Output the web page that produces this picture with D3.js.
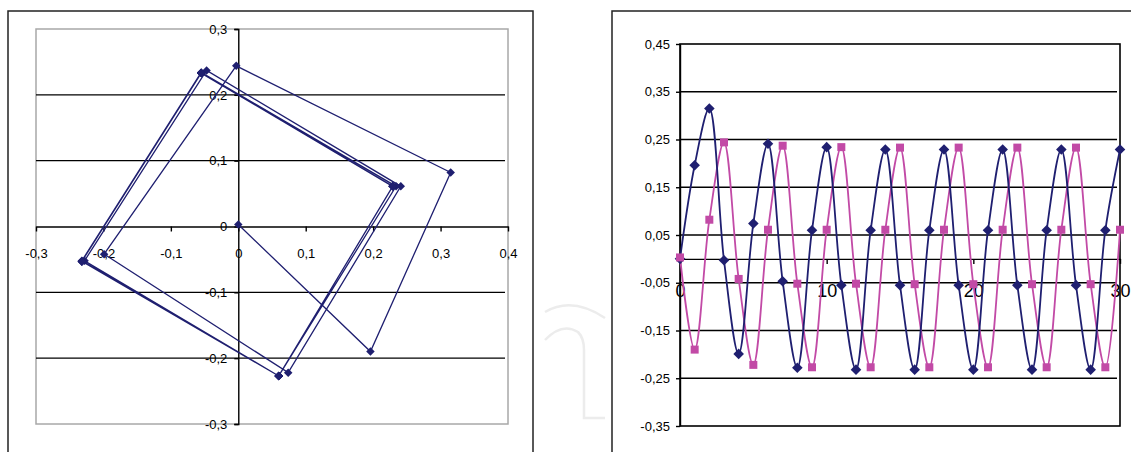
<!DOCTYPE html>
<head>
  <meta charset="utf-8">
  <script src="https://d3js.org/d3.v7.min.js"></script>
  <style>
    body { margin:0; background:#fff; }
    svg { display:block; }
    text { font-family: "Liberation Sans", Arial, sans-serif; fill:#000; }
    .grid { stroke:#000; stroke-width:1.4; }
    .axis path, .axis line { stroke:#000; stroke-width:1.4; }
  </style>
</head>

<body>
  <script>
    // time steps 0..30 and the two series (blue = x, magenta = y)
    var steps = d3.range(0, 31);
    var blueSeries = [0, 0.196, 0.315, -0.003, -0.199, 0.074, 0.241, -0.047, -0.228, 0.06,
      0.234, -0.055, -0.232, 0.06, 0.229, -0.055, -0.232, 0.06, 0.229, -0.055,
      -0.232, 0.06, 0.229, -0.055, -0.232, 0.06, 0.229, -0.055, -0.232, 0.06, 0.229];
    var magentaSeries = [0.003, -0.19, 0.082, 0.244, -0.042, -0.222, 0.061, 0.237, -0.052, -0.227,
      0.061, 0.234, -0.052, -0.227, 0.061, 0.233, -0.053, -0.227, 0.061, 0.233,
      -0.053, -0.227, 0.061, 0.233, -0.053, -0.227, 0.061, 0.233, -0.053, -0.227, 0.061];

    var leftXTicks = [-0.3, -0.2, -0.1, 0, 0.1, 0.2, 0.3, 0.4];
    var leftYTicks = [-0.3, -0.2, -0.1, 0, 0.1, 0.2, 0.3];
    var rightXTicks = [0, 10, 20, 30];
    var rightYTicks = [-0.35, -0.25, -0.15, -0.05, 0.05, 0.15, 0.25, 0.35, 0.45];

    var navy = "#1f1f70", magenta = "#c24aa6";
    var fmt = function (d) { return String(+d.toFixed(2)).replace(".", ","); };

    var svg = d3.select("body").append("svg")
        .attr("width", 1131).attr("height", 452);

    // faint watermark between the charts
    svg.append("path")
        .attr("d", "M545,312 Q572,296 605,318")
        .attr("fill", "none").attr("stroke", "#ececec").attr("stroke-width", 2.5);
    svg.append("path")
        .attr("d", "M545,340 Q562,322 578,332 Q584,338 584,350 L584,418 L605,418")
        .attr("fill", "none").attr("stroke", "#ececec").attr("stroke-width", 2.5);

    // ---------- left chart: blue vs magenta ----------
    svg.append("rect").attr("x", 8).attr("y", 11).attr("width", 525).attr("height", 460)
        .attr("fill", "none").attr("stroke", "#222").attr("stroke-width", 1.5);

    var lx = d3.scaleLinear().domain([-0.3, 0.4]).range([36, 508]);
    var ly = d3.scaleLinear().domain([-0.3, 0.3]).range([424, 29]);
    var left = svg.append("g");

    left.append("rect")
        .attr("x", lx(-0.3)).attr("y", ly(0.3))
        .attr("width", lx(0.4) - lx(-0.3)).attr("height", ly(-0.3) - ly(0.3))
        .attr("fill", "none").attr("stroke", "#a8a8a8").attr("stroke-width", 1.5);

    left.append("g").attr("class", "axis")
        .attr("transform", "translate(" + lx(0) + ",0)")
        .call(d3.axisLeft(ly).tickValues(leftYTicks).tickFormat(fmt).tickSize(4).tickPadding(7))
        .call(function (g) { g.selectAll("text").style("font-size", "13px"); });

    left.append("g").attr("class", "axis")
        .attr("transform", "translate(0," + ly(0) + ")")
        .call(d3.axisBottom(lx).tickValues(leftXTicks).tickFormat(fmt).tickSize(5).tickPadding(17).tickSizeOuter(0))
        .call(function (g) { g.selectAll("text").style("font-size", "13px"); });

    left.selectAll("line.grid")
        .data(leftYTicks.filter(function (d) { return d !== 0 && Math.abs(d) < 0.3; }))
        .enter().append("line").attr("class", "grid")
        .attr("x1", lx(-0.3)).attr("x2", lx(0.4) - 3)
        .attr("y1", function (d) { return ly(d); }).attr("y2", function (d) { return ly(d); });

    var pairs = steps.map(function (t) { return [blueSeries[t], magentaSeries[t]]; });
    left.append("path").datum(pairs)
        .attr("fill", "none").attr("stroke", navy).attr("stroke-width", 1.3)
        .attr("d", d3.line().x(function (d) { return lx(d[0]); }).y(function (d) { return ly(d[1]); }));
    left.selectAll("path.mk").data(pairs).enter().append("path").attr("class", "mk")
        .attr("d", d3.symbol(d3.symbolSquare, 36))
        .attr("fill", navy)
        .attr("transform", function (d) { return "translate(" + lx(d[0]) + "," + ly(d[1]) + ") rotate(45)"; });

    // ---------- right chart: both series over time ----------
    svg.append("rect").attr("x", 612).attr("y", 11).attr("width", 560).attr("height", 460)
        .attr("fill", "none").attr("stroke", "#222").attr("stroke-width", 1.5);

    var rx = d3.scaleLinear().domain([0, 30]).range([680, 1120]);
    var ry = d3.scaleLinear().domain([-0.35, 0.45]).range([426, 44]);
    var right = svg.append("g");

    right.selectAll("line.grid")
        .data(rightYTicks.filter(function (d) { return d > -0.35 && d < 0.45; }))
        .enter().append("line").attr("class", "grid")
        .attr("x1", rx(0)).attr("x2", rx(30) - 3)
        .attr("y1", function (d) { return ry(d); }).attr("y2", function (d) { return ry(d); });

    right.append("rect")
        .attr("x", rx(0)).attr("y", ry(0.45))
        .attr("width", rx(30) - rx(0)).attr("height", ry(-0.35) - ry(0.45))
        .attr("fill", "none").attr("stroke", "#000").attr("stroke-width", 1.6);

    right.append("g").attr("class", "axis")
        .attr("transform", "translate(" + rx(0) + ",0)")
        .call(d3.axisLeft(ry).tickValues(rightYTicks).tickFormat(fmt).tickSize(4).tickPadding(6).tickSizeOuter(0))
        .call(function (g) { g.selectAll("text").style("font-size", "13px"); });

    right.append("g").attr("class", "axis")
        .attr("transform", "translate(0," + ry(0) + ")")
        .call(d3.axisBottom(rx).tickValues(rightXTicks).tickFormat(fmt).tickSize(5).tickPadding(20).tickSizeOuter(0))
        .call(function (g) { g.selectAll("text").style("font-size", "18px"); });

    var series = [
      { values: blueSeries, color: navy, shape: "diamond" },
      { values: magentaSeries, color: magenta, shape: "square" }
    ];
    series.slice().reverse().forEach(function (s) {
      right.append("path").datum(s.values)
          .attr("fill", "none").attr("stroke", s.color).attr("stroke-width", 1.8)
          .attr("d", d3.line().curve(d3.curveCatmullRom.alpha(0.5))
            .x(function (d, i) { return rx(steps[i]); }).y(function (d) { return ry(d); }));
    });
    series.forEach(function (s) {
      right.selectAll(null).data(s.values).enter().append("path")
          .attr("d", d3.symbol(d3.symbolSquare, s.shape === "diamond" ? 56 : 64))
          .attr("fill", s.color)
          .attr("transform", function (d, i) {
            return "translate(" + rx(steps[i]) + "," + ry(d) + ")" + (s.shape === "diamond" ? " rotate(45)" : "");
          });
    });
  </script>
</body>
